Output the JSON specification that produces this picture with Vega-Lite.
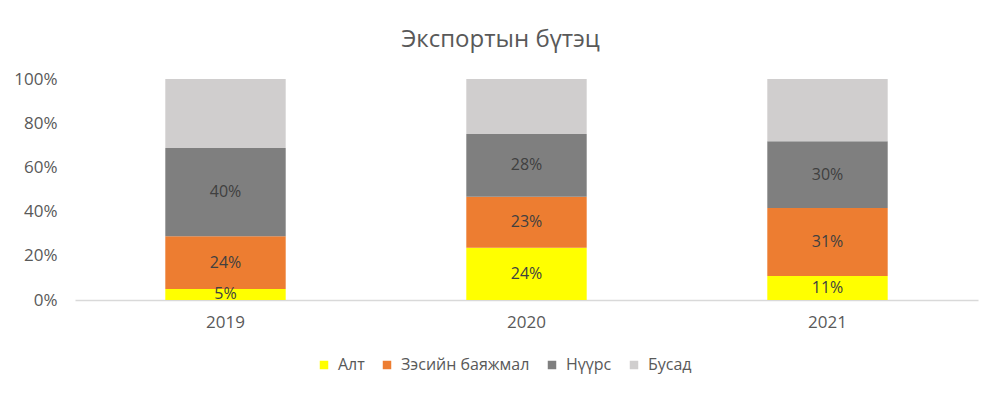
{
  "$schema": "https://vega.github.io/schema/vega-lite/v6.json",
  "width": 903,
  "height": 221,
  "autosize": "none",
  "padding": {"left": 75, "top": 79, "right": 24, "bottom": 100},
  "background": "white",
  "title": {
    "text": "Экспортын бүтэц",
    "font": "Open Sans",
    "fontSize": 24,
    "fontWeight": "normal",
    "color": "#595959",
    "offset": 18,
    "dx": -26
  },
  "data": {
    "values": [
      {"year": "2019", "type": "Алт", "n": 1, "share": 0.050},
      {"year": "2019", "type": "Зэсийн баяжмал", "n": 2, "share": 0.238},
      {"year": "2019", "type": "Нүүрс", "n": 3, "share": 0.400},
      {"year": "2019", "type": "Бусад", "n": 4, "share": 0.312},
      {"year": "2020", "type": "Алт", "n": 1, "share": 0.236},
      {"year": "2020", "type": "Зэсийн баяжмал", "n": 2, "share": 0.231},
      {"year": "2020", "type": "Нүүрс", "n": 3, "share": 0.284},
      {"year": "2020", "type": "Бусад", "n": 4, "share": 0.249},
      {"year": "2021", "type": "Алт", "n": 1, "share": 0.109},
      {"year": "2021", "type": "Зэсийн баяжмал", "n": 2, "share": 0.307},
      {"year": "2021", "type": "Нүүрс", "n": 3, "share": 0.302},
      {"year": "2021", "type": "Бусад", "n": 4, "share": 0.282}
    ]
  },
  "transform": [
    {"stack": "share", "groupby": ["year"], "sort": [{"field": "n"}], "as": ["y0", "y1"]},
    {"calculate": "(datum.y0 + datum.y1) / 2", "as": "mid"}
  ],
  "encoding": {
    "x": {
      "field": "year",
      "type": "nominal",
      "title": null,
      "scale": {"paddingInner": 0.6, "paddingOuter": 0.3},
      "axis": {
        "labelAngle": 0,
        "labelFont": "Open Sans",
        "labelFontSize": 17,
        "labelColor": "#595959",
        "labelPadding": 14,
        "ticks": false,
        "domainColor": "#D9D9D9",
        "domainWidth": 1.5
      }
    }
  },
  "layer": [
    {
      "mark": {"type": "bar"},
      "encoding": {
        "y": {
          "field": "y0",
          "type": "quantitative",
          "title": null,
          "scale": {"domain": [0, 1]},
          "axis": {
            "values": [0, 0.2, 0.4, 0.6, 0.8, 1],
            "format": ".0%",
            "labelFont": "Open Sans",
            "labelFontSize": 17,
            "labelColor": "#595959",
            "labelPadding": 18,
            "ticks": false,
            "domain": false,
            "grid": false
          }
        },
        "y2": {"field": "y1"},
        "color": {
          "field": "type",
          "type": "nominal",
          "title": null,
          "scale": {
            "domain": ["Алт", "Зэсийн баяжмал", "Нүүрс", "Бусад"],
            "range": ["#FFFF00", "#ED7D31", "#7F7F7F", "#D0CECE"]
          },
          "legend": {
            "orient": "none",
            "direction": "horizontal",
            "legendX": 241,
            "legendY": 278,
            "symbolType": "square",
            "symbolSize": 72,
            "symbolStrokeWidth": 0,
            "labelFont": "Open Sans",
            "labelFontSize": 16,
            "labelColor": "#595959",
            "labelOffset": 6,
            "columnPadding": 14
          }
        }
      }
    },
    {
      "transform": [{"filter": "datum.type != 'Бусад'"}],
      "mark": {"type": "text", "font": "Open Sans", "fontSize": 16, "color": "#404040", "baseline": "middle"},
      "encoding": {
        "y": {"field": "mid", "type": "quantitative"},
        "text": {"field": "share", "type": "quantitative", "format": ".0%"}
      }
    }
  ],
  "config": {
    "view": {"stroke": null}
  }
}
